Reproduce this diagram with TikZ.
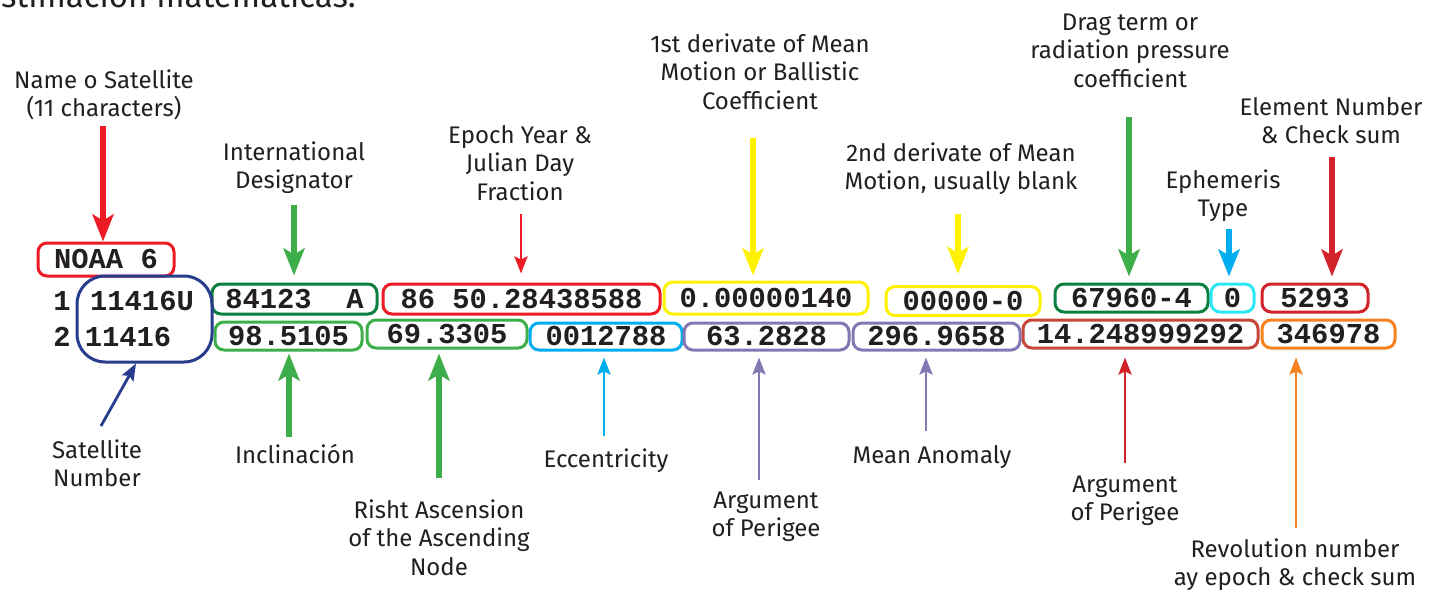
\documentclass[tikz,border=0pt]{standalone}
\usepackage{fontspec}
\setmainfont{Fira Sans}
\newfontfamily\tlefont{Liberation Mono}
\usetikzlibrary{arrows.meta}
\definecolor{tred}{HTML}{ED1C24}
\definecolor{dred}{HTML}{D2232A}
\definecolor{lgreen}{HTML}{3DAE49}
\definecolor{dgreen}{HTML}{0B8040}
\definecolor{tyellow}{HTML}{FFF200}
\definecolor{tcyan}{HTML}{00AEEF}
\definecolor{bcyan}{HTML}{2CE8F5}
\definecolor{tpurple}{HTML}{8478B4}
\definecolor{tnavy}{HTML}{283C8E}
\definecolor{trust}{HTML}{C4473A}
\definecolor{torange}{HTML}{F58220}
\definecolor{ink}{HTML}{231F20}
\begin{document}
\begin{tikzpicture}[x=1pt,y=-1pt,
  lbl/.style={font=\fontsize{24}{28.5}\selectfont, text=ink, align=center, anchor=base, inner sep=0pt},
  fldtext/.style={font=\tlefont\bfseries\fontsize{28.8}{30}\selectfont, text=ink, inner sep=0pt},
  fld/.style={fldtext, draw=#1, line width=3pt, rounded corners=9pt},
  thickarrow/.style={draw=#1, line width=5.5pt, -{Stealth[length=27pt,width=21pt,inset=6pt]}},
  thinarrow/.style={draw=#1, line width=2.8pt, -{Stealth[length=17pt,width=13pt,inset=3pt]}},
]
\useasboundingbox (0,0) rectangle (1431,592);
\clip (0,0) rectangle (1431,592);
\fill[white] (0,0) rectangle (1431,592);

% cut-off heading
\node[font=\fontsize{33}{38}\selectfont, text=ink, anchor=base east, inner sep=0pt] (head) at (356,7) {estimación matemáticas.};

% row 1 fields
\node[fld=tred, minimum width=136pt, minimum height=33pt] (noaa) at (106,259.5) {NOAA 6};
\node[fld=dgreen, minimum width=165pt, minimum height=30pt] (desig) at (294.5,299) {84123\ \ A};
\node[fld=tred, minimum width=277pt, minimum height=30pt] (epoch) at (521.5,299) {86 50.28438588};
\node[fld=tyellow, minimum width=204pt, minimum height=32pt] (dA) at (766,298) {0.00000140};
\node[fld=tyellow, minimum width=154pt, minimum height=29pt] (dB) at (963,301) {00000-0};
\node[fld=dgreen, minimum width=153pt, minimum height=28pt] (drag) at (1131.5,298) {67960-4};
\node[fld=bcyan, minimum width=43pt, minimum height=28pt] (eph) at (1232.5,298) {0};
\node[fld=dred, minimum width=106pt, minimum height=28pt] (elem) at (1315,298) {5293};

% row 2 fields
\node[fld=lgreen, minimum width=147pt, minimum height=28pt] (incl) at (288.5,336) {98.5105};
\node[fld=lgreen, minimum width=160pt, minimum height=28pt] (raan) at (447,334) {69.3305};
\node[fld=tcyan, minimum width=152pt, minimum height=27pt] (ecc) at (606,336.5) {0012788};
\node[fld=tpurple, minimum width=165pt, minimum height=27pt] (argp) at (766.5,336.5) {63.2828};
\node[fld=tpurple, minimum width=167pt, minimum height=27pt] (ma) at (936.5,336.5) {296.9658};
\node[fld=trust, minimum width=235pt, minimum height=28pt] (mm) at (1140.5,334) {14.248999292};
\node[fld=torange, minimum width=133pt, minimum height=28pt] (rev) at (1328.5,334) {346978};

% satellite number group
\node[draw=tnavy, line width=3pt, rounded corners=28pt, minimum width=135pt, minimum height=86pt, inner sep=0pt] (satnum) at (144.5,319) {};
\node[fldtext] (snA) at (142,301) {11416U};
\node[fldtext] (snB) at (128,337) {11416};
\node[fldtext] (lineA) at (62,301) {1};
\node[fldtext] (lineB) at (62,337) {2};

% labels (anchor at baseline of last line)
\node[lbl] (nameL) at (104,116.5) {Name o Satellite\\(11 characters)};
\node[lbl] (intlL) at (294,188.5) {International\\Designator};
\node[lbl] (epochL) at (520,200) {Epoch Year \&\\Julian Day\\Fraction};
\node[lbl] (dAL) at (760,109) {1st derivate of Mean\\Motion or Ballistic\\Coefficient};
\node[lbl] (dBL) at (961,189.5) {2nd derivate of Mean\\Motion, usually blank};
\node[lbl] (dragL) at (1130,87) {Drag term or\\radiation pressure\\coefficient};
\node[lbl] (elemL) at (1331,143.5) {Element Number\\\& Check sum};
\node[lbl] (ephL) at (1223,216.5) {Ephemeris\\Type};
\node[lbl] (satL) at (97,486.5) {Satellite\\Number};
\node[lbl] (inclL) at (295,463) {Inclinación};
\node[lbl] (raanL) at (439,575) {Risht Ascension\\of the Ascending\\Node};
\node[lbl] (eccL) at (606,467) {Eccentricity};
\node[lbl] (argpL) at (766,536.5) {Argument\\of Perigee};
\node[lbl] (maL) at (932,463) {Mean Anomaly};
\node[lbl] (mmL) at (1125,520.5) {Argument\\of Perigee};
\node[lbl] (revL) at (1295,585.5) {Revolution number\\ay epoch \& check sum};

% arrow tails
\coordinate (tNoaa) at (103,126);
\coordinate (tDesig) at (294,205);
\coordinate (tEpoch) at (521,214);
\coordinate (tdA) at (753,138);
\coordinate (tdB) at (958,214);
\coordinate (tDrag) at (1129,117);
\coordinate (tEph) at (1229,229);
\coordinate (tElem) at (1332,157);
\coordinate (tSat) at (101,426);
\coordinate (tIncl) at (289,437);
\coordinate (tRaan) at (439,478);
\coordinate (tEcc) at (604,436);
\coordinate (tArgp) at (759,480);
\coordinate (tMa) at (926,431);
\coordinate (tMm) at (1125,463);
\coordinate (tRev) at (1296,528);

% arrows down
\draw[thickarrow=tred] (tNoaa) -- (tNoaa |- noaa.north);
\draw[thickarrow=lgreen, shorten >=7pt] (tDesig) -- (tDesig |- desig.north);
\draw[thinarrow=tred, shorten >=9pt] (tEpoch) -- (tEpoch |- epoch.north);
\draw[thickarrow=tyellow, shorten >=5pt] (tdA) -- (tdA |- dA.north);
\draw[thickarrow=tyellow, shorten >=11pt] (tdB) -- (tdB |- dB.north);
\draw[thickarrow=lgreen, shorten >=6pt] (tDrag) -- (tDrag |- drag.north);
\draw[thickarrow=tcyan, shorten >=6pt] (tEph) -- (tEph |- eph.north);
\draw[thickarrow=dred, shorten >=6pt] (tElem) -- (tElem |- elem.north);

% arrows up
\draw[thinarrow=tnavy] (tSat) -- ([xshift=-8.5pt]satnum.south);
\draw[thickarrow=lgreen, shorten >=2pt] (tIncl) -- (tIncl |- incl.south);
\draw[thickarrow=lgreen, shorten >=4pt] (tRaan) -- (tRaan |- raan.south);
\draw[thinarrow=tcyan, shorten >=6pt] (tEcc) -- (tEcc |- ecc.south);
\draw[thinarrow=tpurple, shorten >=6pt] (tArgp) -- (tArgp |- argp.south);
\draw[thinarrow=tpurple, shorten >=6pt] (tMa) -- (tMa |- ma.south);
\draw[thinarrow=dred, shorten >=8pt] (tMm) -- (tMm |- mm.south);
\draw[thinarrow=torange, shorten >=8pt] (tRev) -- (tRev |- rev.south);
\end{tikzpicture}
\end{document}
